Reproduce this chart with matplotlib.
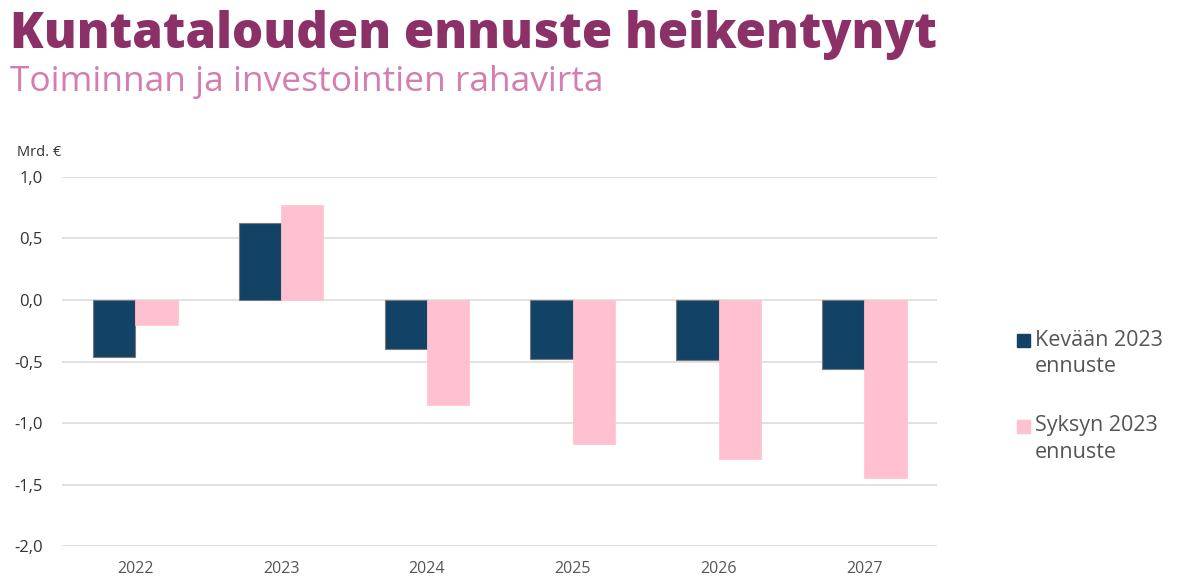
import matplotlib.pyplot as plt
from matplotlib.patches import Rectangle
import numpy as np

years = ['2022', '2023', '2024', '2025', '2026', '2027']
kevat = [-0.46, 0.63, -0.40, -0.48, -0.49, -0.56]
syksy = [-0.20, 0.77, -0.855, -1.17, -1.29, -1.45]
yticks = [1.0, 0.5, 0.0, -0.5, -1.0, -1.5, -2.0]
ylabels = ['1,0', '0,5', '0,0', '-0,5', '-1,0', '-1,5', '-2,0']
labels = ['Kevään 2023\nennuste', 'Syksyn 2023\nennuste']

navy = '#124265'
pink = '#FFC0CF'

plt.rcParams['font.family'] = ['Open Sans', 'DejaVu Sans']

fig = plt.figure(figsize=(12, 5.88), dpi=100)
ax = fig.add_axes([0.052, 0.0714, 0.729, 0.6276])

x = np.arange(len(years))
w = 0.29
ax.bar(x - w / 2, kevat, w, color=navy, edgecolor='#7a7a7a', linewidth=0.8, zorder=3)
ax.bar(x + w / 2, syksy, w, color=pink, edgecolor=pink, linewidth=0.5, zorder=3)

ax.set_xlim(-0.5, len(years) - 0.5)
ax.set_ylim(-2.0, 1.0)
ax.set_yticks(yticks)
ax.set_yticklabels(ylabels, fontsize=12, color='#333333')
ax.set_xticks(x)
ax.set_xticklabels(years, fontsize=11.5, color='#555555')
ax.tick_params(length=0, pad=14)
ax.tick_params(axis='x', pad=11)
ax.grid(axis='y', color='#dadada', linewidth=1.1, zorder=0)
for s in ax.spines.values():
    s.set_visible(False)

fig.text(0.014, 0.741, 'Mrd. €', fontsize=10.5, color='#333333', va='center')

fig.text(0.008, 0.918, 'Kuntatalouden ennuste heikentynyt', fontsize=35.4,
         fontweight='heavy', color='#8C3167', va='baseline')
fig.text(0.008, 0.845, 'Toiminnan ja investointien rahavirta', fontsize=25.5,
         fontweight='normal', color='#D47DB0', va='baseline')

# legend drawn by hand so the square sits at the first line
for lab, col, y0 in zip(labels, [navy, pink], [340, 426]):
    fig.patches.append(Rectangle((1017 / 1200, 1 - (y0 + 6.5) / 588), 13 / 1200, 13 / 588,
                                 transform=fig.transFigure, color=col))
    for i, line in enumerate(lab.split('\n')):
        fig.text(1035 / 1200, 1 - (y0 + 27 * i) / 588, line, fontsize=15.5,
                 color='#555555', va='center')

fig.savefig('out.png', dpi=100)
